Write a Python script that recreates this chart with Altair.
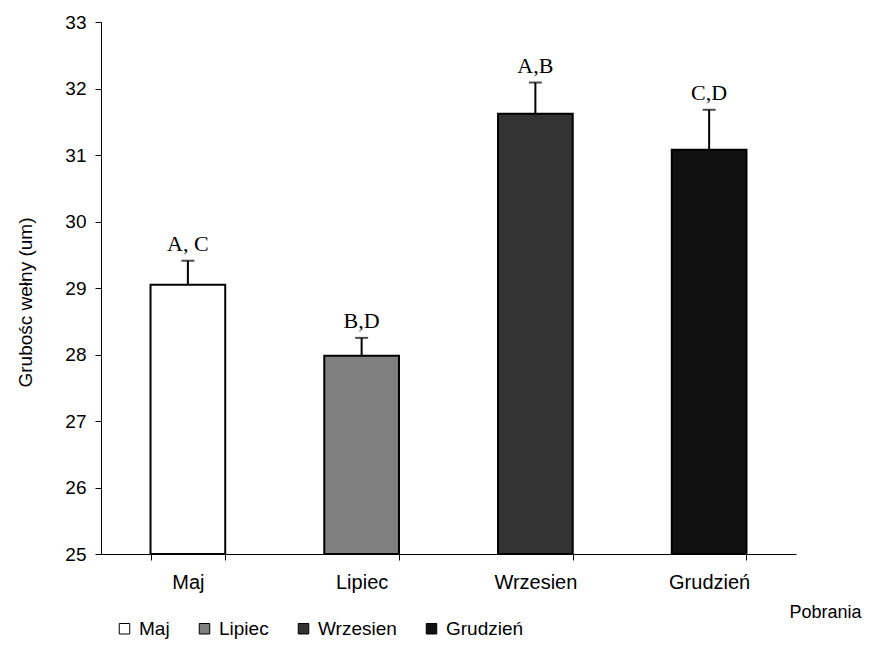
import altair as alt
import pandas as pd

months = ["Maj", "Lipiec", "Wrzesien", "Grudzień"]
means = [29.05, 27.98, 31.62, 31.08]
err_top = [29.41, 28.25, 32.09, 31.68]
letters = ["A, C", "B,D", "A,B", "C,D"]
fills = ["#ffffff", "#808080", "#333333", "#111111"]
y_ticks = [25, 26, 27, 28, 29, 30, 31, 32, 33]

df = pd.DataFrame({"Pobrania": months, "mean": means, "err": err_top, "lab": letters})

x = alt.X("Pobrania:N", sort=months,
          scale=alt.Scale(paddingInner=0.57, paddingOuter=0.285),
          axis=alt.Axis(title="Pobrania", labelAngle=0, tickBand="extent",
                        labelFont="Liberation Sans", labelFontSize=20, labelColor="black",
                        labelPadding=12, tickSize=6, tickColor="black", domainColor="black",
                        titleFont="Liberation Sans", titleFontSize=18, titleFontWeight="normal",
                        titleColor="black", titleX=688, titleY=58, titleAlign="left",
                        titleBaseline="middle"))

y_scale = alt.Scale(domain=[25, 33], zero=False, nice=False)

bars = alt.Chart(df).mark_bar(stroke="black", strokeWidth=2).encode(
    x=x,
    y=alt.Y("mean:Q", scale=y_scale,
            axis=alt.Axis(title="Grubośc wełny (um)", values=y_ticks, format="d", grid=False,
                          labelFont="Liberation Sans", labelFontSize=19, labelColor="black",
                          labelPadding=9, tickSize=6, tickColor="black", domainColor="black",
                          titleFont="Liberation Sans", titleFontSize=19, titleFontWeight="normal",
                          titleColor="black", titleX=-76, titleY=280, titleAngle=-90,
                          titleAlign="center", titleBaseline="middle")),
    y2=alt.datum(25),
    color=alt.Color("Pobrania:N", sort=months,
                    scale=alt.Scale(domain=months, range=fills),
                    legend=alt.Legend(title=None, orient="none", direction="horizontal",
                                      legendX=14, legendY=597, symbolType="square",
                                      symbolSize=110, symbolStrokeColor="black",
                                      symbolStrokeWidth=1, labelFont="Liberation Sans",
                                      labelFontSize=19, labelColor="black",
                                      columnPadding=25, labelOffset=5)),
)

rule = alt.Chart(df).mark_rule(color="black", strokeWidth=2).encode(
    x=alt.X("Pobrania:N", sort=months), y="mean:Q", y2="err:Q")

cap = alt.Chart(df).mark_tick(color="black", thickness=2, size=13, orient="horizontal").encode(
    x=alt.X("Pobrania:N", sort=months), y="err:Q")

text = alt.Chart(df).mark_text(font="Liberation Serif", fontSize=22, color="black",
                               baseline="bottom", dy=-5).encode(
    x=alt.X("Pobrania:N", sort=months), y="err:Q", text="lab:N")

chart = alt.layer(bars, rule, cap, text).properties(
    width=695, height=532,
    padding={"left": 93, "top": 14, "right": 70, "bottom": 86},
    autosize=alt.AutoSizeParams(type="none"),
    background="white",
).configure_view(stroke=None)

chart.save("out.html", embed_options={"renderer": "svg", "actions": False})
